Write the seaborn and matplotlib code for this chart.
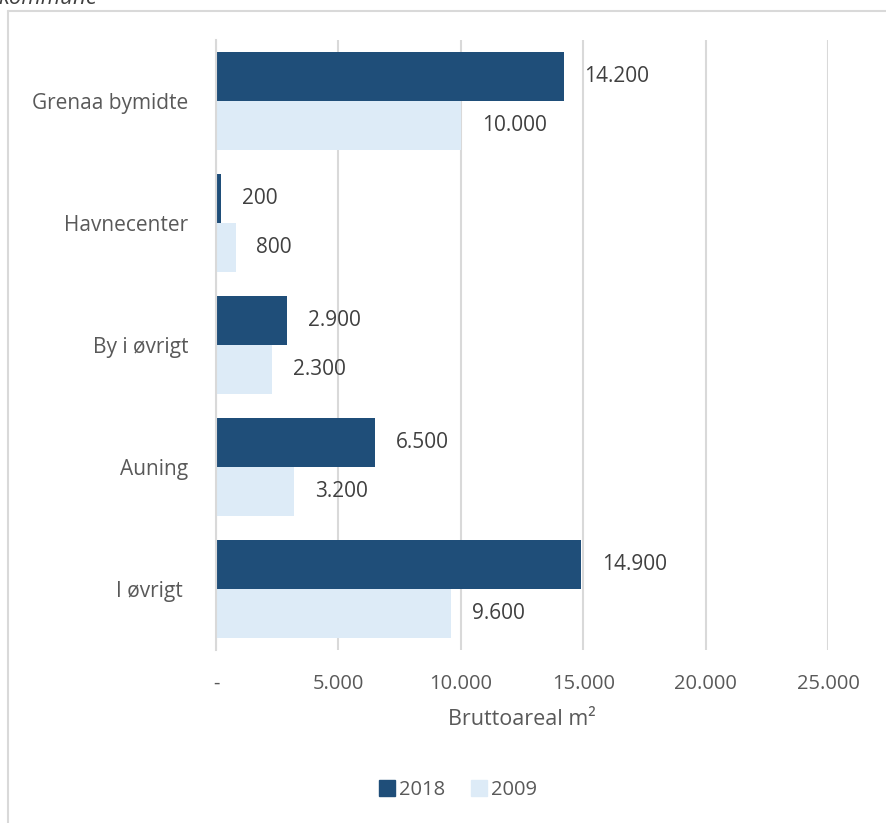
import pandas as pd
import numpy as np
import matplotlib
matplotlib.use('Agg')
import matplotlib.pyplot as plt
import seaborn as sns
from matplotlib.lines import Line2D

# data (bruttoareal m2)
omraader = ['Grenaa bymidte', 'Havnecenter', 'By i øvrigt', 'Auning', 'I øvrigt ']
areal_2018 = [14200, 200, 2900, 6500, 14900]
areal_2009 = [10000, 800, 2300, 3200, 9600]
aar = ['2018', '2009']
farver = ['#1F4E79', '#DDEBF7']
x_ticks = [0, 5000, 10000, 15000, 20000, 25000]
x_ticklabels = ['-', '5.000', '10.000', '15.000', '20.000', '25.000']

df = pd.DataFrame({
    'Område': omraader * 2,
    'År': [aar[0]] * len(omraader) + [aar[1]] * len(omraader),
    'Areal': areal_2018 + areal_2009,
})

sns.set_style('white')
plt.rcParams['font.family'] = ['Open Sans', 'DejaVu Sans']

fig = plt.figure(figsize=(8.86, 8.23), dpi=100)
W, H = 886, 823
ax = fig.add_axes([216 / W, 1 - 650 / H, (828 - 216) / W, (650 - 40) / H])

sns.barplot(data=df, y='Område', x='Areal', hue='År', hue_order=aar,
            palette=farver, orient='h', width=0.8, saturation=1,
            linewidth=0, legend=False, ax=ax)

# value labels
for cont in ax.containers:
    for bar in cont:
        v = bar.get_width()
        ax.annotate(f'{int(v):,}'.replace(',', '.'),
                    (v, bar.get_y() + bar.get_height() / 2),
                    xytext=(15, 0), textcoords='offset points',
                    va='center', ha='left', fontsize=15, color='#404040')

ax.set_xlim(0, 25000)
ax.set_ylim(4.5, -0.5)
ax.set_xticks(x_ticks)
ax.set_xticklabels(x_ticklabels)
ax.grid(axis='x', color='#D9D9D9', linewidth=1.5)
ax.set_axisbelow(True)
for s in ['top', 'right', 'bottom']:
    ax.spines[s].set_visible(False)
ax.spines['left'].set_color('#D9D9D9')
ax.spines['left'].set_linewidth(1.5)
ax.tick_params(axis='x', length=0, pad=17, labelsize=14.5, labelcolor='#595959')
ax.tick_params(axis='y', length=0, pad=20, labelsize=15, labelcolor='#595959')
ax.set_ylabel('')
ax.set_xlabel('Bruttoareal m²', fontsize=15.5, color='#595959', labelpad=11)

# legend
handles = [Line2D([0], [0], marker='s', linestyle='', markersize=11,
                  markerfacecolor=c, markeredgecolor=c) for c in farver]
fig.legend(handles, aar, loc='center', bbox_to_anchor=(457 / W, 1 - 790 / H),
           ncol=2, frameon=False, fontsize=14.5, labelcolor='#595959',
           handletextpad=0.1, columnspacing=1.2, handlelength=1.0)

# chart frame (top and left edge visible)
fig.add_artist(Line2D([8 / W, 1], [1 - 11 / H, 1 - 11 / H], color='#D9D9D9', linewidth=1.5))
fig.add_artist(Line2D([8 / W, 8 / W], [0, 1 - 11 / H], color='#D9D9D9', linewidth=1.5))

# cut-off caption above the chart
fig.text(-2 / W, 1 - 4 / H, 'kommune', fontsize=16, style='italic',
         color='#404040', va='baseline', ha='left')

fig.savefig('out.png', dpi=100)
